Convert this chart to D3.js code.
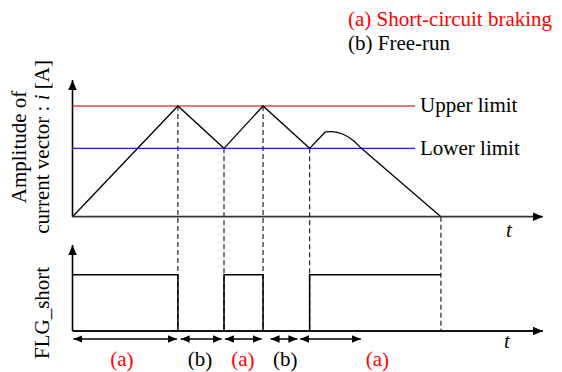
<!DOCTYPE html>
<html>
<head>
<meta charset="utf-8">
<script src="https://cdn.jsdelivr.net/npm/d3@7"></script>
<style>
  html, body { margin: 0; padding: 0; background: #fff; }
  svg { display: block; }
  svg text { font-family: "Liberation Serif", serif; }
</style>
</head>
<body>
<div id="chart"></div>
<script>
// time of each switching event (a.u.)
const eventT = [22.4, 32.2, 40.5, 50.4, 78.3];

// current amplitude (normalised), linear part
const ampT = [0, 22.4, 32.2, 40.5, 50.4, 53.7];
const ampV = [0, 0.81, 0.5, 0.81, 0.5, 0.62];
// curved part after the last short
const humpT = [53.7, 55.2, 57.5, 59.6, 61.4];
const humpV = [0.62, 0.623, 0.603, 0.56, 0.5];
// straight decay to zero
const tailT = [61.4, 78.3];
const tailV = [0.5, 0];

const upperLimit = 0.81;
const lowerLimit = 0.5;
const limitEndT = 72.8;

// FLG_short step signal
const flagT = [0, 22.4, 32.2, 40.5, 50.4, 78.3];
const flagV = [1, 0, 1, 0, 1, 1];
const flagHigh = 0.655;

// mode intervals under the time axis
const modeStart = [0.2, 23.0, 32.4, 42.1, 48.4];
const modeEnd = [22.2, 31.7, 40.2, 47.8, 61.3];
const modeName = ["(a)", "(b)", "(a)", "(b)", "(a)"];
const modeLabelT = [10.5, 27.1, 36.2, 45.2, 64.8];

const W = 562, H = 372;
const font = "Liberation Serif";
const fs = 21;
const svg = d3.select("#chart").append("svg").attr("width", W).attr("height", H)
  .attr("font-family", font);

const defs = svg.append("defs");
defs.append("marker").attr("id", "head").attr("viewBox", "0 0 10 10")
  .attr("refX", 10).attr("refY", 5).attr("markerWidth", 10).attr("markerHeight", 10)
  .attr("markerUnits", "userSpaceOnUse").attr("orient", "auto-start-reverse")
  .append("path").attr("d", "M0,0.8 L10,5 L0,9.2 Z").attr("fill", "#000");
defs.append("marker").attr("id", "small").attr("viewBox", "0 0 10 10")
  .attr("refX", 10).attr("refY", 5).attr("markerWidth", 9).attr("markerHeight", 9)
  .attr("markerUnits", "userSpaceOnUse").attr("orient", "auto-start-reverse")
  .append("path").attr("d", "M0,0.8 L10,5 L0,9.2 Z").attr("fill", "#000");

const x = d3.scaleLinear().domain([0, 100]).range([72.5, 543]);
const yTop = d3.scaleLinear().domain([0, 1]).range([216.7, 80]);
const yBot = d3.scaleLinear().domain([0, 1]).range([331, 245]);

const red = "#f04444", blue = "#1a1aee";

// horizontal labels are placed through a transform so glyphs are drawn like the rotated ones
function label(sel, px, py) {
  return sel.append("text").attr("font-family", font).attr("font-size", fs)
    .attr("transform", `translate(${px},${py}) rotate(0.01)`);
}

// dashed guides from the waveform down to the flag axis
const guideTop = eventT.map(t => {
  const k = ampT.indexOf(t);
  return k >= 0 ? ampV[k] : 0;
});
svg.append("g").selectAll("line").data(eventT).join("line")
  .attr("x1", d => x(d)).attr("x2", d => x(d))
  .attr("y1", (d, i) => yTop(guideTop[i])).attr("y2", yBot(0))
  .attr("stroke", "#333").attr("stroke-width", 1.3).attr("stroke-dasharray", "5,3");

// limits
svg.append("line").attr("x1", x(0)).attr("x2", x(limitEndT))
  .attr("y1", yTop(upperLimit)).attr("y2", yTop(upperLimit))
  .attr("stroke", red).attr("stroke-width", 1.6);
svg.append("line").attr("x1", x(0)).attr("x2", x(limitEndT))
  .attr("y1", yTop(lowerLimit)).attr("y2", yTop(lowerLimit))
  .attr("stroke", blue).attr("stroke-width", 1.4);
label(svg, x(limitEndT) + 5, yTop(upperLimit) + 6).text("Upper limit");
label(svg, x(limitEndT) + 5, yTop(lowerLimit) + 6.5).text("Lower limit");

// current waveform
const lin = d3.line().x(d => x(d[0])).y(d => yTop(d[1]));
const wave = [
  { pts: d3.zip(ampT, ampV), curve: d3.curveLinear },
  { pts: d3.zip(humpT, humpV), curve: d3.curveMonotoneX },
  { pts: d3.zip(tailT, tailV), curve: d3.curveLinear }
];
svg.append("g").selectAll("path").data(wave).join("path")
  .attr("d", d => lin.curve(d.curve)(d.pts))
  .attr("fill", "none").attr("stroke", "#000").attr("stroke-width", 1.3);

// flag signal
const flagLine = d3.line().x(d => x(d[0])).y(d => yBot(d[1] * flagHigh)).curve(d3.curveStepAfter);
svg.append("path").attr("d", flagLine(d3.zip(flagT, flagV)))
  .attr("fill", "none").attr("stroke", "#000").attr("stroke-width", 1.5);

// axes
function axes(y, xColor) {
  svg.append("line").attr("x1", x(0)).attr("x2", x(0))
    .attr("y1", y(0)).attr("y2", y.range()[1])
    .attr("stroke", "#000").attr("stroke-width", 1.6).attr("marker-end", "url(#head)");
  svg.append("line").attr("x1", x(0)).attr("x2", x(100))
    .attr("y1", y(0)).attr("y2", y(0))
    .attr("stroke", xColor).attr("stroke-width", 1.8).attr("marker-end", "url(#head)");
}
axes(yTop, "#333");
axes(yBot, "#111");

label(svg, 509, 237).attr("font-style", "italic").attr("text-anchor", "middle").text("t");
label(svg, 507, 348).attr("font-style", "italic").attr("text-anchor", "middle").text("t");

// y labels
const yl = svg.append("text").attr("font-size", fs).attr("text-anchor", "middle")
  .attr("transform", `translate(0,${yTop(0.51)}) rotate(-90)`);
yl.append("tspan").attr("x", 0).attr("y", 26).text("Amplitude of");
const l2 = yl.append("tspan").attr("x", 0).attr("y", 49);
l2.append("tspan").text("current vector : ");
l2.append("tspan").attr("font-style", "italic").text("i");
l2.append("tspan").text(" [A]");

svg.append("text").attr("font-size", fs).attr("text-anchor", "middle")
  .attr("transform", `translate(49,${yBot(0.21)}) rotate(-90)`).text("FLG_short");

// mode arrows
const yArr = 339;
svg.append("g").selectAll("line").data(modeStart).join("line")
  .attr("x1", d => x(d)).attr("x2", (d, i) => x(modeEnd[i]))
  .attr("y1", yArr).attr("y2", yArr)
  .attr("stroke", "#000").attr("stroke-width", 1.5)
  .attr("marker-start", "url(#small)").attr("marker-end", "url(#small)");
svg.append("g").selectAll("text").data(modeName).join("text")
  .attr("font-family", font)
  .attr("transform", (d, i) => `translate(${x(modeLabelT[i])},366.5) rotate(0.01)`)
  .attr("text-anchor", "middle").attr("font-size", fs)
  .attr("fill", d => d === "(a)" ? "#ff0000" : "#000").text(d => d);

// legend
label(svg, 348, 26).attr("fill", "#ff0000").text("(a) Short-circuit braking");
label(svg, 348, 50).attr("fill", "#000").text("(b) Free-run");
</script>
</body>
</html>
